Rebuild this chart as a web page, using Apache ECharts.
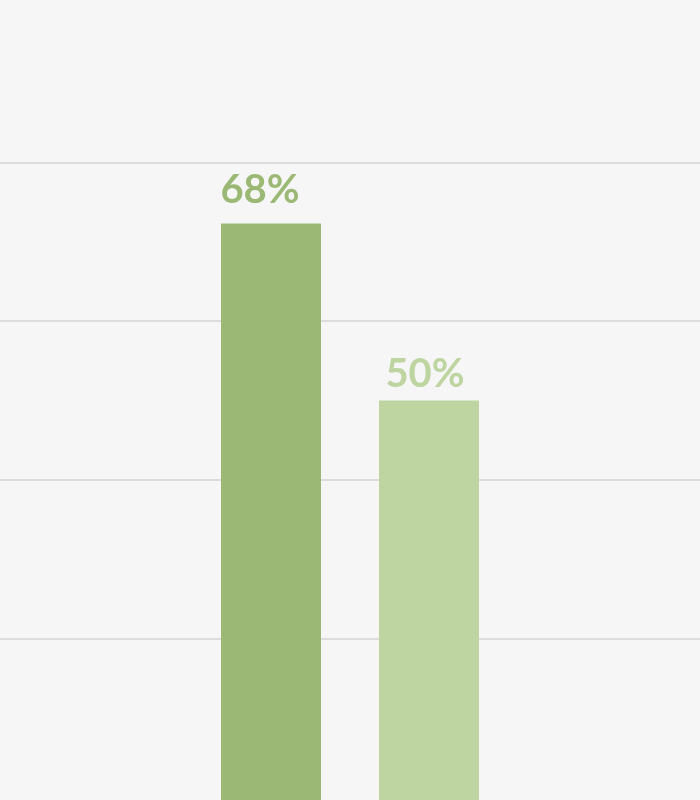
<!DOCTYPE html>
<html>
<head>
<meta charset="utf-8">
<script src="https://cdn.jsdelivr.net/npm/echarts@6/dist/echarts.min.js"></script>
<style>
  html, body { margin: 0; padding: 0; background: #f6f6f6; }
  #chart { width: 700px; height: 800px; }
</style>
</head>
<body>
<div id="chart"></div>
<script>
// data
const categories = [''];
const seriesNames = ['A', 'B'];
const barValues = [72.3, 50];
const barLabels = ['68%', '50%'];
const colors = ['#9bb974', '#bed5a2'];

const chart = echarts.init(document.getElementById('chart'));

// per-bar label nudges to sit like the original
const labelOffsets = [[-11, -8], [-4, -1]];

const option = {
  backgroundColor: '#f6f6f6',
  animation: false,
  grid: {
    left: 0,
    right: -4,
    top: 162.5,
    bottom: 2.8
  },
  xAxis: {
    type: 'category',
    data: categories,
    axisLine: { show: false },
    axisTick: { show: false },
    axisLabel: { show: false }
  },
  yAxis: {
    type: 'value',
    min: 0,
    max: 80,
    interval: 20,
    startValue: -0.6,
    axisLine: { show: false },
    axisTick: { show: false },
    axisLabel: { show: false },
    splitLine: {
      show: true,
      showMinLine: false,
      showMaxLine: true,
      lineStyle: { color: '#dcdcdc', width: 2 }
    }
  },
  series: seriesNames.map(function (name, i) {
    return {
      name: name,
      type: 'bar',
      clip: false,
      barWidth: 100,
      barGap: '58%',
      data: [barValues[i]],
      itemStyle: { color: colors[i] },
      label: {
        show: true,
        position: 'top',
        offset: labelOffsets[i],
        formatter: function () { return barLabels[i]; },
        color: colors[i],
        fontFamily: 'Lato',
        fontWeight: 'bold',
        fontSize: 40
      }
    };
  })
};

chart.setOption(option);
</script>
</body>
</html>
